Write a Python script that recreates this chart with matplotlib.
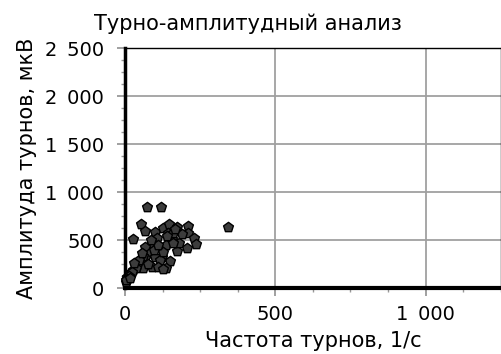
import numpy as np
import matplotlib.pyplot as plt
from matplotlib.ticker import MultipleLocator, FuncFormatter

# turn frequency (1/s) and amplitude (uV)
freq = [74, 120, 344, 26, 52, 67, 100, 126, 148, 172, 209, 209, 228, 237, 206,
        172, 181, 156, 137, 150, 137, 122, 106, 89, 67, 83, 100, 117, 89, 67,
        50, 61, 39, 28, 17, 6, 2, 111, 128, 144, 161, 128, 60, 45, 35, 22, 12,
        8, 4, 78, 95, 110, 140, 160, 55, 30, 15, 190, 165, 85]
ampl = [847, 847, 639, 510, 667, 594, 587, 621, 667, 639, 646, 569, 517, 458, 413,
        389, 472, 507, 448, 285, 205, 319, 517, 465, 430, 361, 326, 292, 222, 309,
        274, 205, 240, 187, 153, 118, 60, 222, 378, 576, 569, 194, 330, 290, 210, 170, 130,
        95, 80, 250, 400, 450, 540, 470, 360, 260, 100, 560, 610, 500]

plt.rcParams['font.family'] = 'DejaVu Sans'

fig = plt.figure(figsize=(5.01, 3.54), dpi=100)
ax = fig.add_axes([0.2495, 0.1864, 0.75, 0.678])

ax.scatter(freq, ampl, marker='p', s=55, color='#3c3c3c', edgecolor='black',
           linewidth=1.0, zorder=3, clip_on=False)

ax.set_xlim(0, 1250)
ax.set_ylim(0, 2500)
ax.xaxis.set_major_locator(MultipleLocator(500))
ax.xaxis.set_minor_locator(MultipleLocator(125))
ax.yaxis.set_major_locator(MultipleLocator(500))
ax.yaxis.set_minor_locator(MultipleLocator(125))

fmt = FuncFormatter(lambda v, p: '{:,.0f}'.format(v).replace(',', '\u2002'))
ax.xaxis.set_major_formatter(fmt)
ax.yaxis.set_major_formatter(fmt)

ax.grid(True, which='major', color='#a0a0a0', linewidth=1.3)
ax.set_axisbelow(True)
ax.tick_params(which='major', length=6, width=1.3, color='#999999', labelsize=14, pad=6)
ax.tick_params(axis='y', which='major', pad=9)
ax.tick_params(which='minor', length=3, width=1.0, color='#999999')

ax.spines['left'].set_linewidth(2.5)
ax.spines['bottom'].set_linewidth(3)
ax.spines['top'].set_linewidth(1)
ax.spines['right'].set_linewidth(1)

ax.set_xlabel('Частота турнов, 1/с', fontsize=15)
ax.set_ylabel('Амплитуда турнов, мкВ', fontsize=15)
ax.xaxis.set_label_coords(0.5, -0.18)
ax.yaxis.set_label_coords(-0.235, 0.5)
ax.set_title('Турно-амплитудный анализ', fontsize=15, x=0.326, pad=13)

fig.savefig('out.png', dpi=100)
